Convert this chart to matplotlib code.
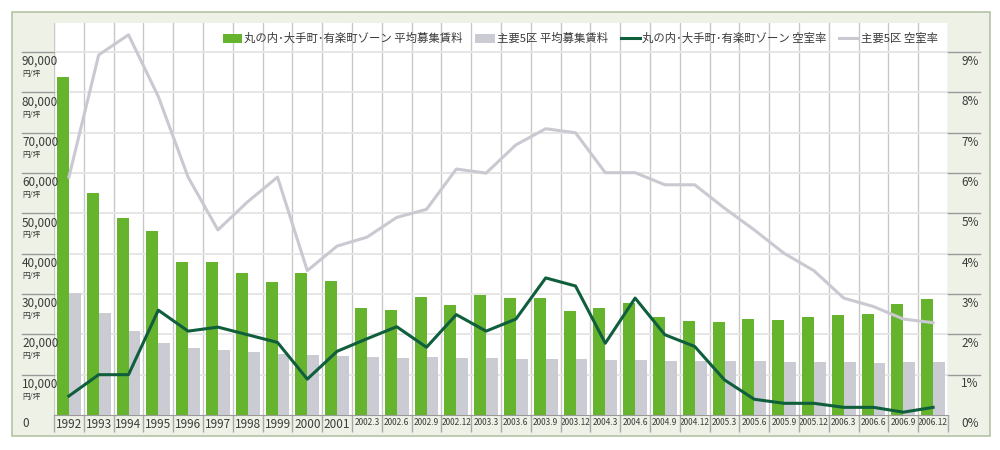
import matplotlib
matplotlib.use("Agg")
import matplotlib.pyplot as plt
from matplotlib.patches import Rectangle
import numpy as np

plt.rcParams['font.family'] = ['Noto Sans CJK JP', 'DejaVu Sans']

# periods (annual to 2001, quarterly after)
periods = ['1992', '1993', '1994', '1995', '1996', '1997', '1998', '1999', '2000', '2001',
           '2002.3', '2002.6', '2002.9', '2002.12', '2003.3', '2003.6', '2003.9', '2003.12',
           '2004.3', '2004.6', '2004.9', '2004.12', '2005.3', '2005.6', '2005.9', '2005.12',
           '2006.3', '2006.6', '2006.9', '2006.12']

# average asking rent (yen / tsubo)
rent_marunouchi = [83800, 55100, 48900, 45700, 37900, 38000, 35300, 33000, 35200, 33200,
                   26500, 26000, 29300, 27200, 29700, 29000, 29100, 25700,
                   26500, 27800, 24300, 23400, 23100, 23700, 23500, 24300,
                   24800, 25100, 27600, 28700]
rent_5wards = [30300, 25200, 20900, 17900, 16500, 16100, 15700, 15100, 14800, 14600,
               14400, 14200, 14300, 14200, 14100, 14000, 14000, 13900,
               13700, 13600, 13500, 13500, 13400, 13300, 13200, 13200,
               13100, 13000, 13100, 13200]

# vacancy rate (%)
vac_marunouchi = [0.47, 1.0, 1.0, 2.6, 2.08, 2.18, 1.99, 1.8, 0.89, 1.58,
                  1.89, 2.19, 1.68, 2.49, 2.08, 2.38, 3.4, 3.2,
                  1.78, 2.9, 1.99, 1.7, 0.87, 0.39, 0.29, 0.29,
                  0.19, 0.19, 0.07, 0.19]
vac_5wards = [5.9, 8.93, 9.43, 7.9, 5.9, 4.59, 5.29, 5.9, 3.58, 4.19,
              4.41, 4.9, 5.1, 6.1, 6.0, 6.7, 7.1, 7.0,
              6.01, 6.01, 5.71, 5.71, 5.13, 4.59, 4.01, 3.58,
              2.9, 2.69, 2.38, 2.29]

labels = ['丸の内･大手町･有楽町ゾーン 平均募集賃料', '主要5区 平均募集賃料',
          '丸の内･大手町･有楽町ゾーン 空室率', '主要5区 空室率']

GREEN = '#66b32e'
GREY_BAR = '#cbcbd3'
DARK = '#0f5e3c'
GREY_LINE = '#c9c9d1'
TXT = '#3a3a3a'

fig = plt.figure(figsize=(10, 4.5), dpi=100)
fig.patches.append(Rectangle((12 / 1000, 14 / 450), 978 / 1000, 424 / 450,
                             transform=fig.transFigure, facecolor='#eef2e6',
                             edgecolor='#b4c3a6', linewidth=1.2, zorder=-1))

ax = fig.add_axes([0.054, 35 / 450, 0.894, 392.3 / 450])
ax.set_facecolor('white')
x = np.arange(len(periods))
ymax = 97300

ax.bar(x - 0.2, rent_marunouchi, width=0.4, color=GREEN, label=labels[0], zorder=3)
ax.bar(x + 0.2, rent_5wards, width=0.4, color=GREY_BAR, label=labels[1], zorder=3)
ax.set_xlim(-0.5, len(periods) - 0.5)
ax.set_ylim(0, ymax)

# grid
for b in np.arange(-0.5, len(periods), 1.0):
    ax.axvline(b, color='#c8c8c8', lw=1, zorder=1)
for v in range(10000, 100000, 10000):
    ax.axhline(v, color='#e6e6e6', lw=1.4, zorder=1)
    ax.plot([-0.036, 0], [v, v], transform=ax.get_yaxis_transform(),
            color='#9a9a9a', lw=1, clip_on=False)
    ax.plot([1, 1.036], [v, v], transform=ax.get_yaxis_transform(),
            color='#9a9a9a', lw=1, clip_on=False)
    ax.annotate(f'{v:,}', xy=(-0.0358, v), xycoords=ax.get_yaxis_transform(),
                xytext=(0, -2), textcoords='offset points', ha='left', va='top',
                fontsize=8.5, color=TXT)
    ax.annotate('円/坪', xy=(-0.0358, v), xycoords=ax.get_yaxis_transform(),
                xytext=(0, -13), textcoords='offset points', ha='left', va='top',
                fontsize=5.5, color=TXT)
    ax.annotate(f'{v // 10000}%', xy=(1.0345, v), xycoords=ax.get_yaxis_transform(),
                xytext=(0, -2), textcoords='offset points', ha='right', va='top',
                fontsize=8.5, color=TXT)
ax.text(-0.0358, -0.022, '0', transform=ax.transAxes, ha='left', va='center',
        fontsize=8.5, color=TXT)
ax.text(1.0345, -0.022, '0%', transform=ax.transAxes, ha='right', va='center',
        fontsize=8.5, color=TXT)

ax.set_yticks([])
ax.set_xticks(x)
ax.set_xticklabels(periods)
for i, t in enumerate(ax.get_xticklabels()):
    t.set_color(TXT)
    t.set_fontsize(8.5 if i < 10 else 6)
ax.tick_params(axis='x', length=0, pad=2)
ax.set_xticks(np.arange(-0.5, len(periods), 1.0), minor=True)
ax.tick_params(axis='x', which='minor', length=12, color='#a8a8a8', width=1)
for s in ['top', 'left', 'right']:
    ax.spines[s].set_visible(False)
ax.spines['bottom'].set_color('#9a9a9a')

ax2 = ax.twinx()
ax2.plot(x, vac_5wards, color=GREY_LINE, lw=2.2, label=labels[3], zorder=4)
ax2.plot(x, vac_marunouchi, color=DARK, lw=2.2, label=labels[2], zorder=5)
ax2.set_ylim(0, ymax / 10000)
ax2.set_yticks([])
for s in ['top', 'left', 'right', 'bottom']:
    ax2.spines[s].set_visible(False)

h1, l1 = ax.get_legend_handles_labels()
h2, l2 = ax2.get_legend_handles_labels()
handles = h1 + [h2[1], h2[0]]
leg = ax2.legend(handles, labels, loc='upper right', bbox_to_anchor=(1.0, 1.0),
                 ncol=4, frameon=False, fontsize=8.2, handlelength=1.7,
                 handleheight=0.9, columnspacing=1.1, handletextpad=0.2)
for t in leg.get_texts():
    t.set_color(TXT)

fig.savefig('out.png', dpi=100)
